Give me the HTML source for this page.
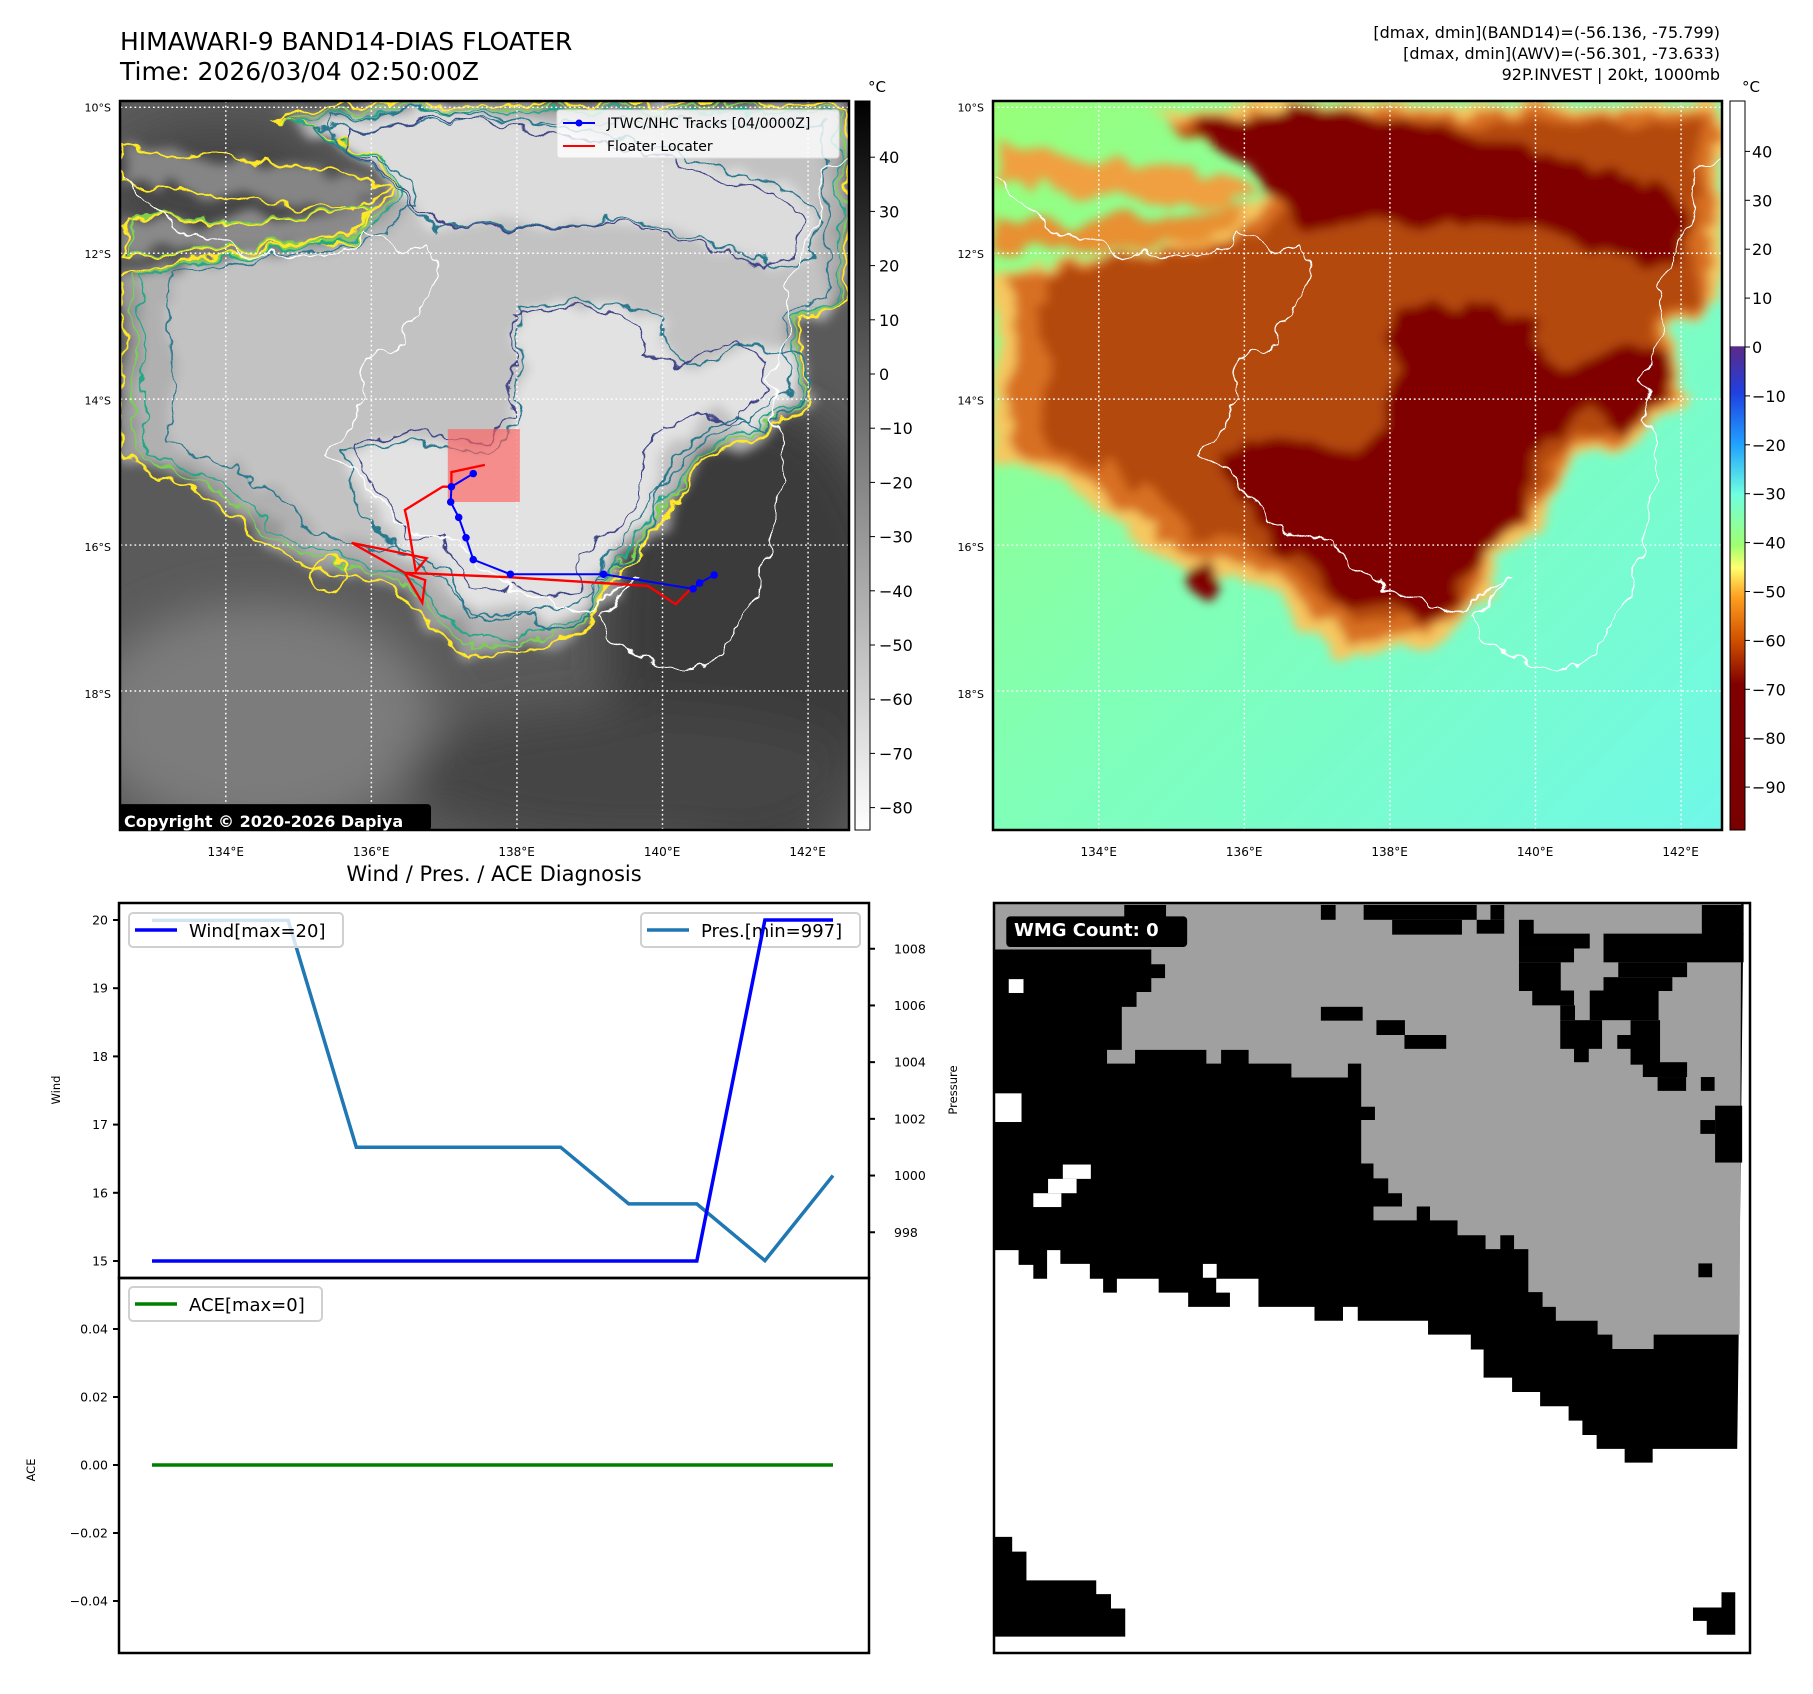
<!DOCTYPE html>
<html><head><meta charset="utf-8">
<style>
html,body{margin:0;padding:0;background:#fff;}
body{width:1813px;height:1690px;overflow:hidden;position:relative;font-family:"DejaVu Sans","Liberation Sans",sans-serif;}
svg text{font-family:"DejaVu Sans","Liberation Sans",sans-serif;}
</style></head>
<body>
<svg id="root" xmlns="http://www.w3.org/2000/svg" width="1813" height="1690" viewBox="0 0 1813 1690">
<defs>
 <filter id="blur20" filterUnits="userSpaceOnUse" x="0" y="0" width="1700" height="1600"><feGaussianBlur stdDeviation="40"/></filter>
 <filter id="wiggle" filterUnits="userSpaceOnUse" x="0" y="0" width="1700" height="1600">
  <feTurbulence type="fractalNoise" baseFrequency="0.02" numOctaves="3" seed="4" result="n"/>
  <feDisplacementMap in="SourceGraphic" in2="n" scale="45" xChannelSelector="R" yChannelSelector="G"/>
 </filter>
 <filter id="wiggleBlur" filterUnits="userSpaceOnUse" x="0" y="0" width="1700" height="1600">
  <feTurbulence type="fractalNoise" baseFrequency="0.015" numOctaves="3" seed="7" result="n"/>
  <feDisplacementMap in="SourceGraphic" in2="n" scale="60" xChannelSelector="R" yChannelSelector="G" result="d"/>
  <feGaussianBlur in="d" stdDeviation="9"/>
 </filter>
 <linearGradient id="gbar1" x1="0" y1="0" x2="0" y2="1"><stop offset="0" stop-color="#000"/><stop offset="1" stop-color="#fff"/></linearGradient>
 <linearGradient id="gbar2" x1="0" y1="0" x2="0" y2="1">
  <stop offset="0" stop-color="#fff"/><stop offset="0.336" stop-color="#fff"/>
  <stop offset="0.337" stop-color="#5b2a86"/><stop offset="0.40" stop-color="#2040e0"/>
  <stop offset="0.47" stop-color="#20a0ff"/><stop offset="0.54" stop-color="#70ffe0"/>
  <stop offset="0.61" stop-color="#a0ff70"/><stop offset="0.64" stop-color="#ffff70"/>
  <stop offset="0.68" stop-color="#ffa020"/><stop offset="0.74" stop-color="#d05000"/>
  <stop offset="0.80" stop-color="#800000"/><stop offset="1" stop-color="#7a0000"/>
 </linearGradient>
 <linearGradient id="gbg2" x1="0" y1="0" x2="1" y2="1"><stop offset="0" stop-color="#98ff78"/><stop offset="0.5" stop-color="#80ffb8"/><stop offset="1" stop-color="#70f8e8"/></linearGradient>
 <clipPath id="clipTop"><rect x="119" y="903" width="750" height="375"/></clipPath>
 <clipPath id="clipBot"><rect x="119" y="1278" width="750" height="375"/></clipPath>
</defs>

<text x="120" y="50" font-size="25">HIMAWARI-9 BAND14-DIAS FLOATER</text>
<text x="120" y="80" font-size="25">Time: 2026/03/04 02:50:00Z</text>
<text x="1720" y="38" font-size="16" text-anchor="end">[dmax, dmin](BAND14)=(-56.136, -75.799)</text>
<text x="1720" y="59" font-size="16" text-anchor="end">[dmax, dmin](AWV)=(-56.301, -73.633)</text>
<text x="1720" y="80" font-size="16" text-anchor="end">92P.INVEST | 20kt, 1000mb</text>

<svg id="mapL" x="120" y="101" width="729" height="729" viewBox="207 177 1261 1268" preserveAspectRatio="none">
 <rect x="207" y="177" width="1261" height="1268" fill="#5a5a5a"/>
 <g filter="url(#blur20)">
  <ellipse cx="450" cy="1250" rx="300" ry="200" fill="#7c7c7c"/>
  <ellipse cx="1300" cy="1100" rx="250" ry="400" fill="#3a3a3a"/>
  <ellipse cx="1100" cy="1350" rx="400" ry="120" fill="#444"/>
  <ellipse cx="380" cy="330" rx="200" ry="110" fill="#444"/>
 </g>
 <g id="cloudsL" transform="translate(55,0)"></g>
 <g id="gridL"></g>
 <g id="tracks"></g>
 <rect x="205" y="1400" width="540" height="45" rx="6" fill="#000"/>
</svg>
<rect x="120" y="101" width="729" height="729" fill="none" stroke="#000" stroke-width="2.5"/>
<text x="124" y="827" font-size="16" font-weight="bold" fill="#fff">Copyright © 2020-2026 Dapiya</text>

<g>
 <rect x="557" y="110" width="282" height="48" rx="3" fill="#fff" fill-opacity="0.8" stroke="#ddd"/>
 <line x1="563" y1="123" x2="595" y2="123" stroke="#00f" stroke-width="2"/><circle cx="579" cy="123" r="3.5" fill="#00f"/>
 <text x="607" y="128" font-size="14">JTWC/NHC Tracks [04/0000Z]</text>
 <line x1="563" y1="146" x2="595" y2="146" stroke="#f00" stroke-width="2"/>
 <text x="607" y="151" font-size="14">Floater Locater</text>
</g>

<rect x="855" y="101" width="15" height="729" fill="url(#gbar1)" stroke="#000" stroke-width="1"/>
<text x="868" y="92" font-size="15">°C</text>
<g id="cbar1ticks"></g>

<svg id="mapR" x="993" y="101" width="729" height="729" viewBox="152 177 1261 1268" preserveAspectRatio="none">
 <rect x="152" y="177" width="1261" height="1268" fill="url(#gbg2)"/>
 <g id="cloudsR"></g>
 <g id="gridR"></g>
</svg>
<rect x="993" y="101" width="729" height="729" fill="none" stroke="#000" stroke-width="2.5"/>
<rect x="1730" y="101" width="15" height="729" fill="url(#gbar2)" stroke="#000" stroke-width="1"/>
<text x="1742" y="92" font-size="15">°C</text>
<g id="cbar2ticks"></g>
<g id="maplabels"></g>

<text x="494" y="881" font-size="21" text-anchor="middle">Wind / Pres. / ACE Diagnosis</text>
<g id="chart"></g>

<svg id="wmg" x="994" y="903" width="756" height="750" viewBox="10 18 1538 1517" preserveAspectRatio="none">
 <rect x="10" y="18" width="1538" height="1517" fill="#fff"/>
 <polygon fill="#000" points="10,18 1535,18 1525,890 1522,1122 1350,1122 1350,1150 1293,1150 1293,1122 1236,1122 1236,1094 1207,1094 1207,1065 1179,1065 1179,1036 1121,1036 1121,1007 1064,1007 1064,978 1006,978 1006,921 980,921 980,891 893,891 893,863 750,863 750,835 720,835 720,863 662,863 662,835 548,835 548,778 462,778 462,806 490,806 490,835 405,835 405,806 345,806 345,778 260,778 260,806 232,806 232,778 205,778 205,748 145,748 145,720 118,720 118,778 90,778 90,750 60,750 60,720 10,720"/>
 <polygon fill="#a0a0a0" points="10,20 1530,20 1527,891 1352,891 1352,920 1268,920 1268,891 1238,891 1238,863 1153,863 1153,835 1126,835 1126,805 1097,805 1097,718 1068,718 1068,690 1040,690 1040,718 1010,718 1010,690 953,690 953,660 897,660 897,632 870,632 870,660 782,660 782,632 840,632 840,605 812,605 812,575 782,575 782,545 757,545 757,457 785,457 785,430 757,430 757,343 730,343 730,371 615,371 615,343 528,343 528,315 472,315 472,343 442,343 442,315 297,315 297,343 240,343 240,315 270,315 270,228 300,228 300,198 330,198 330,170 358,170 358,142 330,142 330,112 10,112"/>
 <g fill="#000">
  <rect x="275" y="22" width="85" height="30"/><rect x="675" y="22" width="30" height="30"/>
  <rect x="762" y="22" width="230" height="30"/><rect x="820" y="52" width="142" height="30"/>
  <rect x="992" y="52" width="56" height="28"/><rect x="1020" y="22" width="28" height="30"/>
  <rect x="1078" y="52" width="30" height="30"/><rect x="1078" y="80" width="144" height="30"/>
  <rect x="1078" y="110" width="112" height="28"/><rect x="1078" y="138" width="85" height="58"/>
  <rect x="1105" y="195" width="85" height="30"/><rect x="1162" y="225" width="30" height="30"/>
  <rect x="1250" y="80" width="285" height="58"/><rect x="1450" y="22" width="85" height="60"/>
  <rect x="1280" y="138" width="140" height="30"/><rect x="1250" y="168" width="140" height="28"/>
  <rect x="1222" y="195" width="140" height="60"/><rect x="1162" y="255" width="85" height="58"/>
  <rect x="1190" y="310" width="30" height="30"/><rect x="1305" y="255" width="60" height="90"/>
  <rect x="1278" y="285" width="30" height="28"/><rect x="1330" y="340" width="90" height="30"/>
  <rect x="1360" y="370" width="58" height="28"/><rect x="1448" y="370" width="28" height="28"/>
  <rect x="1477" y="428" width="55" height="115"/><rect x="1447" y="457" width="30" height="28"/>
  <rect x="1443" y="747" width="28" height="28"/><rect x="675" y="228" width="85" height="28"/>
  <rect x="788" y="255" width="58" height="30"/><rect x="845" y="285" width="85" height="28"/>
 </g>
 <g fill="#fff">
  <rect x="40" y="172" width="30" height="28"/><rect x="12" y="403" width="54" height="58"/>
  <rect x="150" y="547" width="57" height="29"/><rect x="120" y="576" width="58" height="29"/>
  <rect x="90" y="605" width="57" height="28"/><rect x="435" y="748" width="28" height="28"/>
 </g>
 <polygon fill="#000" points="10,1300 47,1300 47,1330 76,1330 76,1388 218,1388 218,1416 248,1416 248,1445 277,1445 277,1502 10,1502"/>
 <polygon fill="#000" points="1490,1412 1518,1412 1518,1498 1460,1498 1460,1470 1432,1470 1432,1443 1490,1443"/>
 <rect x="35" y="45" width="368" height="62" rx="8" fill="#000"/>
</svg>
<rect x="994" y="903" width="756" height="750" fill="none" stroke="#000" stroke-width="2.5"/>
<text x="1014" y="936" font-size="18" font-weight="bold" fill="#fff">WMG Count: 0</text>
</svg>

<script>
const timeIdx = [0,1,2,3,4,5,6,7,8,9,10];
const windVals = [15,15,15,15,15,15,15,15,15,20,20];
const presVals = [1009,1009,1009,1001,1001,1001,1001,999,999,997,1000];
const aceVals = [0,0,0,0,0,0,0,0,0,0,0];
const windTicks = [15,16,17,18,19,20];
const presTicks = [998,1000,1002,1004,1006,1008];
const aceTicks = [-0.04,-0.02,0.00,0.02,0.04];
const aceTickLabels = ["\u22120.04","\u22120.02","0.00","0.02","0.04"];
const jtwcLon = [137.40,137.10,137.09,137.20,137.30,137.40,137.91,139.19,140.42,140.51,140.71];
const jtwcLat = [-15.02,-15.20,-15.41,-15.62,-15.90,-16.20,-16.40,-16.40,-16.60,-16.52,-16.41];
const floaterLon = [137.56,137.10,137.10,136.98,136.46,136.50,136.61,136.76,135.73,136.46,136.70,136.74,136.46,137.89,139.80,140.18,140.39];
const floaterLat = [-14.90,-15.00,-15.20,-15.20,-15.52,-15.69,-16.36,-16.18,-15.97,-16.38,-16.79,-16.48,-16.38,-16.44,-16.56,-16.81,-16.60];
const floaterBox = [137.05,138.04,-14.41,-15.41];
const gridLons = [134,136,138,140,142];
const gridLats = [10,12,14,16,18];
const cbar1Ticks = [40,30,20,10,0,-10,-20,-30,-40,-50,-60,-70,-80];
const cbar2Ticks = [40,30,20,10,0,-10,-20,-30,-40,-50,-60,-70,-80,-90];

const NS='http://www.w3.org/2000/svg';
function mk(tag, attrs, parent){const e=document.createElementNS(NS,tag);for(const k in attrs)e.setAttribute(k,attrs[k]);parent.appendChild(e);return e;}
function fmt(v){return v<0?'\u2212'+Math.abs(v):String(v);}
const mx = lon => 390 + (lon-134)*125.9;
const my = lat => 188 + (-lat-10)*126.9;

const INTER="M155,480 L300,450 L450,430 L560,400 L630,330 L600,270 L500,235 L420,200 L600,182 L1413,182 L1413,520 L1330,560 L1345,700 L1270,760 L1160,800 L1100,900 L1010,1000 L960,1100 L850,1130 L760,1150 L700,1100 L620,1020 L520,1000 L420,960 L350,900 L280,850 L200,820 L155,800 Z";
const STREAK1="M155,250 L330,280 L520,300 L620,330 L560,370 L380,350 L250,330 L155,320 Z";
const STREAK2="M155,380 L300,390 L480,380 L600,360 L560,420 L400,430 L250,440 L155,450 Z";
const CORE_A="M840,540 L1000,530 L1080,560 L1090,620 L1150,640 L1230,600 L1320,620 L1320,680 L1280,720 L1250,750 L1200,720 L1120,760 L1090,800 L1070,900 L1020,960 L960,1000 L960,1060 L900,1080 L840,1050 L760,1060 L730,1010 L700,960 L640,960 L600,900 L560,850 L550,780 L620,760 L700,770 L780,780 L830,740 L840,650 Z";
const CORE_B="M520,210 L700,190 L820,210 L960,230 L1100,260 L1200,300 L1320,330 L1360,380 L1350,450 L1300,470 L1220,440 L1100,400 L1000,380 L900,400 L800,390 L700,400 L660,360 L600,300 L520,240 Z";
const COAST="M155,310 L200,360 L240,400 L320,420 L360,440 L450,450 L540,440 L580,400 L600,420 L640,440 L690,420 L700,480 L660,540 L640,600 L580,620 L570,700 L540,770 L510,790 L560,830 L620,900 L680,930 L740,950 L800,1000 L860,1040 L920,1050 L970,1070 L1000,1040 L1050,1010 L980,1080 L990,1110 L1040,1140 L1090,1165 L1150,1160 L1200,1130 L1240,1060 L1270,960 L1300,830 L1290,720 L1280,660 L1300,600 L1320,540 L1300,500 L1340,440 L1360,360 L1370,290 L1410,270";

const cR=document.getElementById('cloudsR');
const gR=mk('g',{filter:'url(#wiggleBlur)'},cR);
mk('path',{d:STREAK1,fill:'#f0a040'},gR);
mk('path',{d:STREAK2,fill:'#e89030'},gR);
mk('path',{d:INTER,fill:'#f6c860'},gR);
mk('path',{d:INTER,fill:'#d87020',transform:'translate(40,20) scale(0.96)'},gR);
mk('path',{d:INTER,fill:'#b44a08',transform:'translate(100,50) scale(0.9)'},gR);
mk('path',{d:CORE_A,fill:'#800000'},gR);
mk('path',{d:CORE_B,fill:'#800000'},gR);
mk('circle',{cx:515,cy:1005,r:25,fill:'#800000'},gR);
mk('path',{d:COAST,fill:'none',stroke:'#fff','stroke-width':2.5,filter:'url(#wiggle)'},cR);

const cL=document.getElementById('cloudsL');
const gL=mk('g',{filter:'url(#wiggleBlur)'},cL);
mk('path',{d:STREAK1,fill:'#858585'},gL);
mk('path',{d:STREAK2,fill:'#8a8a8a'},gL);
mk('path',{d:INTER,fill:'#989898'},gL);
mk('path',{d:INTER,fill:'#b0b0b0',transform:'translate(40,20) scale(0.96)'},gL);
mk('path',{d:INTER,fill:'#c2c2c2',transform:'translate(100,50) scale(0.9)'},gL);
mk('path',{d:CORE_A,fill:'#e2e2e2'},gL);
mk('path',{d:CORE_B,fill:'#dcdcdc'},gL);
const gC=mk('g',{filter:'url(#wiggle)',fill:'none'},cL);
mk('path',{d:STREAK1,stroke:'#fde725','stroke-width':4},gC);
mk('path',{d:STREAK2,stroke:'#fde725','stroke-width':4},gC);
mk('path',{d:STREAK2,stroke:'#7ad151','stroke-width':3,transform:'translate(10,5) scale(0.98)'},gC);
mk('path',{d:INTER,stroke:'#fde725','stroke-width':4},gC);
mk('path',{d:INTER,stroke:'#7ad151','stroke-width':3,transform:'translate(25,12) scale(0.975)'},gC);
mk('path',{d:INTER,stroke:'#22a884','stroke-width':3,transform:'translate(45,22) scale(0.955)'},gC);
mk('path',{d:INTER,stroke:'#2a788e','stroke-width':3,transform:'translate(100,50) scale(0.9)'},gC);
mk('path',{d:CORE_A,stroke:'#2a788e','stroke-width':3,transform:'translate(-30,-25) scale(1.04)'},gC);
mk('path',{d:CORE_A,stroke:'#414487','stroke-width':3,transform:'translate(60,50) scale(0.92)'},gC);
mk('path',{d:CORE_B,stroke:'#2a788e','stroke-width':3},gC);
mk('path',{d:CORE_B,stroke:'#414487','stroke-width':3,transform:'translate(60,30) scale(0.93)'},gC);
mk('circle',{cx:515,cy:1005,r:28,stroke:'#fde725','stroke-width':4},gC);
mk('path',{d:COAST,fill:'none',stroke:'#fff','stroke-width':2.5,filter:'url(#wiggle)'},cL);

function grid(g, off){
  gridLons.forEach(lon=>{const l=mk('line',{x1:mx(lon)-off,x2:mx(lon)-off,y1:177,y2:1445,stroke:'#fff','stroke-width':2.5,'stroke-dasharray':'3 5'},g);
    
    });
  gridLats.forEach(lat=>{const l=mk('line',{x1:0,x2:2000,y1:my(-lat),y2:my(-lat),stroke:'#fff','stroke-width':2.5,'stroke-dasharray':'3 5'},g);
    
    });
}
grid(document.getElementById('gridL'),0);
grid(document.getElementById('gridR'),55);

const tg=document.getElementById('tracks');
const box=mk('rect',{x:mx(floaterBox[0]),y:my(floaterBox[2]),width:mx(floaterBox[1])-mx(floaterBox[0]),height:my(floaterBox[3])-my(floaterBox[2]),fill:'#ff6060','fill-opacity':0.65},tg);


const fl=mk('polyline',{points:floaterLon.map((v,i)=>mx(v)+','+my(floaterLat[i])).join(' '),fill:'none',stroke:'#f00','stroke-width':4},tg);


const jl=mk('polyline',{points:jtwcLon.map((v,i)=>mx(v)+','+my(jtwcLat[i])).join(' '),fill:'none',stroke:'#00f','stroke-width':3.5},tg);


jtwcLon.forEach((v,i)=>{const c=mk('circle',{cx:mx(v),cy:my(jtwcLat[i]),r:6.5,fill:'#00f'},tg);
  
  });

const ml=document.getElementById('maplabels');
[[120,0],[993,55]].forEach(([px,off])=>{
  gridLons.forEach(lon=>{const t=mk('text',{x:px+(mx(lon)-off-(off?152:207))/1.731,y:856,'font-size':12,'text-anchor':'middle'},ml);t.textContent=lon+'°E';
    
    });
  gridLats.forEach(lat=>{const t=mk('text',{x:px-9,y:101+(my(-lat)-177)/1.731+4,'font-size':11,'text-anchor':'end'},ml);t.textContent=lat+'°S';
    
    });
});
const c1=document.getElementById('cbar1ticks');
cbar1Ticks.forEach(v=>{const y=374-v*5.42;mk('line',{x1:870,x2:875,y1:y,y2:y,stroke:'#000'},c1);
  const t=mk('text',{x:879,y:y+6,'font-size':16},c1);t.textContent=fmt(v);
  
  });
const c2=document.getElementById('cbar2ticks');
cbar2Ticks.forEach(v=>{const y=347-v*4.89;mk('line',{x1:1745,x2:1750,y1:y,y2:y,stroke:'#000'},c2);
  const t=mk('text',{x:1752,y:y+6,'font-size':16},c2);t.textContent=fmt(v);
  
  });

const ch=document.getElementById('chart');
const xi=i=>152+i*68.1;
const yW=w=>1261-(w-15)*68.2;
const yP=p=>1260.6-(p-997)*28.35;
const yA=a=>1465-a/0.02*68;
function legend(x,y,w,color,label,name){
  const g=mk('g',{},ch);
  
  
  mk('rect',{x:x,y:y,width:w,height:34,rx:4,fill:'#fff','fill-opacity':0.8,stroke:'#d0d0d0','stroke-width':2},g);
  mk('line',{x1:x+6,x2:x+48,y1:y+17,y2:y+17,stroke:color,'stroke-width':3.5},g);
  const t=mk('text',{x:x+60,y:y+24,'font-size':18},g);t.textContent=label;
}
legend(641,913,219,'#1f77b4','Pres.[min=997]','pressure-legend');
const gt=mk('g',{'clip-path':'url(#clipTop)'},ch);
const pl=mk('polyline',{points:timeIdx.map(i=>xi(i)+','+yP(presVals[i])).join(' '),fill:'none',stroke:'#1f77b4','stroke-width':3.5},gt);


legend(129,913,214,'#0000ff','Wind[max=20]','wind-legend');
const wl=mk('polyline',{points:timeIdx.map(i=>xi(i)+','+yW(windVals[i])).join(' '),fill:'none',stroke:'#0000ff','stroke-width':3.5},gt);


legend(129,1287,193,'#008000','ACE[max=0]','ace-legend');
const gb=mk('g',{'clip-path':'url(#clipBot)'},ch);
const al=mk('polyline',{points:timeIdx.map(i=>xi(i)+','+yA(aceVals[i])).join(' '),fill:'none',stroke:'#008000','stroke-width':3.5},gb);


mk('rect',{x:119,y:903,width:750,height:375,fill:'none',stroke:'#000','stroke-width':2.5},ch);
mk('rect',{x:119,y:1278,width:750,height:375,fill:'none',stroke:'#000','stroke-width':2.5},ch);
windTicks.forEach(v=>{const y=yW(v);mk('line',{x1:113,x2:119,y1:y,y2:y,stroke:'#000','stroke-width':2},ch);
  const t=mk('text',{x:108,y:y+4.5,'font-size':12.5,'text-anchor':'end'},ch);t.textContent=v;
  
  });
presTicks.forEach(v=>{const y=yP(v);mk('line',{x1:869,x2:875,y1:y,y2:y,stroke:'#000','stroke-width':2},ch);
  const t=mk('text',{x:894,y:y+4.5,'font-size':12.5},ch);t.textContent=v;
  
  });
aceTicks.forEach((v,k)=>{const y=yA(v);mk('line',{x1:113,x2:119,y1:y,y2:y,stroke:'#000','stroke-width':2},ch);
  const t=mk('text',{x:108,y:y+4.5,'font-size':12.5,'text-anchor':'end'},ch);t.textContent=aceTickLabels[k];
  
  });
function vlabel(x,y,s,name){const t=mk('text',{x:x,y:y,'font-size':11.5,'text-anchor':'middle',transform:'rotate(-90 '+x+' '+y+')'},ch);t.textContent=s;
  
  }
vlabel(60,1090,'Wind','wind-axis-title');
vlabel(35,1470,'ACE','ace-axis-title');
vlabel(957,1090,'Pressure','pressure-axis-title');
</script>
</body></html>
